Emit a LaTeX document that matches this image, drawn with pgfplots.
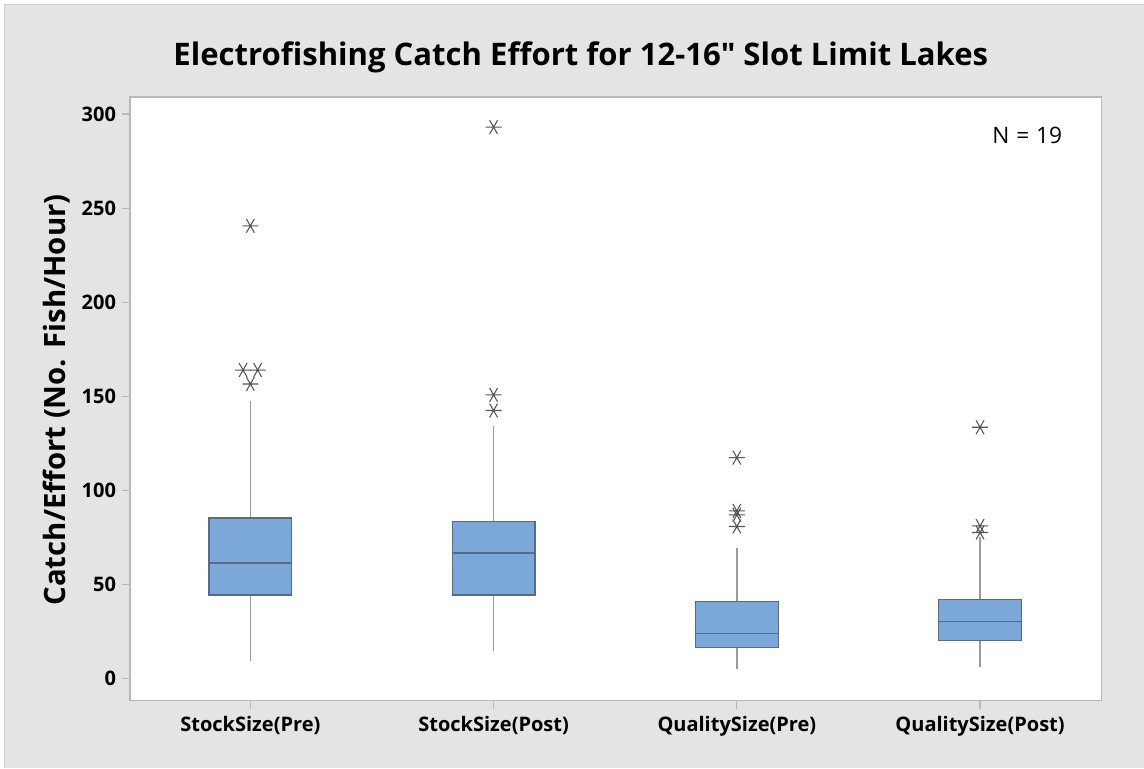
\documentclass[border=0pt]{standalone}
\usepackage{fontspec}
\setmainfont{Open Sans}
\newfontfamily\plainfont{Open Sans}
\usepackage{pgfplots}
\pgfplotsset{compat=1.18}
\usepgfplotslibrary{statistics}
\definecolor{bggray}{HTML}{E4E4E4}
\definecolor{boxfill}{HTML}{7BA7D9}
\definecolor{boxedge}{HTML}{5A6A80}
\definecolor{whisk}{HTML}{9A9A9A}
\definecolor{outl}{HTML}{555555}
\definecolor{frame}{HTML}{B8B8B8}

\begin{document}
\begin{tikzpicture}[x=0.75pt,y=0.75pt]
% canvas 1144 x 768 px, origin top-left
\fill[white] (0,0) rectangle (1144,-768);
\fill[bggray] (4,-4) rectangle (1144,-768);
\draw[frame!70,line width=0.5pt] (4,-768) -- (4,-4) -- (1144,-4);

\node[font=\plainfont\fontsize{23.3}{28}\selectfont\bfseries] at (581,-57) {Electrofishing Catch Effort for 12-16" Slot Limit Lakes};
\node[font=\fontsize{22}{26}\selectfont\bfseries,rotate=90] at (57,-400) {Catch/Effort (No. Fish/Hour)};

\begin{axis}[
  at={(97.5pt,-525.75pt)}, anchor=south west,
  scale only axis, width=729pt, height=453pt,
  xmin=0.505, xmax=4.5, ymin=-11.68, ymax=309.03,
  axis background/.style={fill=white},
  axis line style={frame, line width=0.9pt},
  xtick={1,2,3,4},
  xticklabels={StockSize(Pre),StockSize(Post),QualitySize(Pre),QualitySize(Post)},
  ytick={0,50,100,150,200,250,300},
  tick align=outside, major tick length=6pt,
  tick style={frame, line width=0.9pt},
  xtick pos=bottom, ytick pos=left,
  ticklabel style={font=\fontsize{15}{17}\selectfont\bfseries},
  /pgf/number format/assume math mode=true,
  xticklabel style={yshift=-2pt},
  yticklabel style={xshift=-1pt},
  clip=false,
  boxplot/draw direction=y,
  boxplot/box extend=0.34,
  boxplot/whisker extend=0,
  boxplot/every whisker/.style={draw=whisk, line width=1.2pt},
  boxplot/every median/.style={draw=boxedge, line width=1pt},
  boxplot/every box/.style={draw=boxedge, fill=boxfill, line width=1pt},
]
\addplot+[mark=none, boxplot prepared={draw position=1,
  lower whisker=9.6, lower quartile=44.6, median=61.6,
  upper quartile=85.5, upper whisker=147.4}] coordinates {};
\addplot+[mark=none, boxplot prepared={draw position=2,
  lower whisker=14.9, lower quartile=44.6, median=66.9,
  upper quartile=83.4, upper whisker=134.3}] coordinates {};
\addplot+[mark=none, boxplot prepared={draw position=3,
  lower whisker=5.1, lower quartile=16.6, median=24.2,
  upper quartile=41.0, upper whisker=69.7}] coordinates {};
\addplot+[mark=none, boxplot prepared={draw position=4,
  lower whisker=6.5, lower quartile=20.2, median=30.6,
  upper quartile=42.3, upper whisker=75.2}] coordinates {};

% outliers
\addplot[only marks, mark=asterisk, mark size=6pt, outl, line width=0.8pt,
  mark options={rotate=90}] coordinates {
  (1,240.6) (0.97,164) (1.03,164) (1,156.6)
  (2,293) (2,150.8) (2,142.5)
  (3,117.5) (3,89.2) (3,87.1) (3,80.9)
  (4,133.6) (4,81.2) (4,77.7)
};

\node[anchor=east, font=\fontsize{17}{20}\selectfont] at (rel axis cs:0.964,0.936) {N\hspace{0.3em}=\hspace{0.3em}19};
\end{axis}
\end{tikzpicture}
\end{document}
